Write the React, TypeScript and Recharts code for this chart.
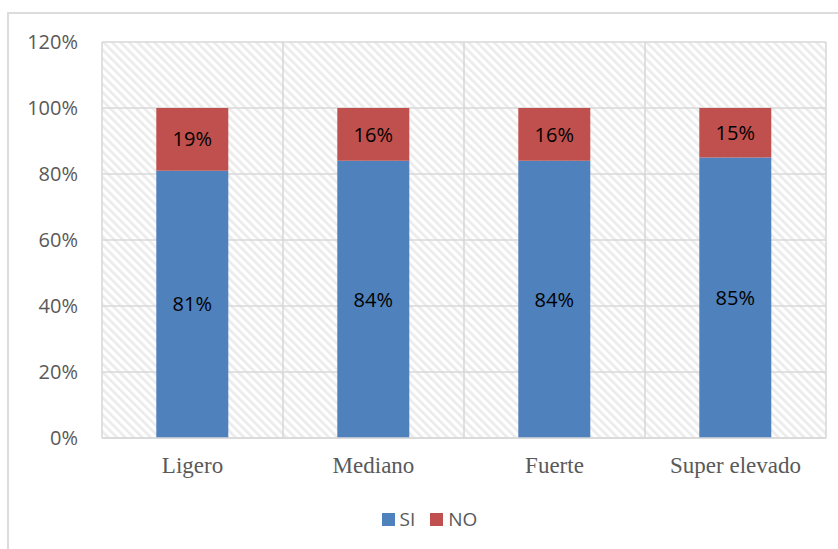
import React from "react";
import {
  BarChart,
  Bar,
  XAxis,
  YAxis,
  CartesianGrid,
  LabelList,
} from "recharts";

// Categories and stacked shares (percent)
const categories = ["Ligero", "Mediano", "Fuerte", "Super elevado"];
const siValues = [81, 84, 84, 85];
const noValues = [19, 16, 16, 15];
const yTicks = [0, 20, 40, 60, 80, 100, 120];

const SI_COLOR = "#4F81BD";
const NO_COLOR = "#C0504D";
const GRID = "#d9d9d9";

const data = categories.map((name, i) => ({
  name,
  SI: siValues[i],
  NO: noValues[i],
}));

const series = [
  { key: "SI", color: SI_COLOR },
  { key: "NO", color: NO_COLOR },
];

const sans = "'Open Sans', 'Liberation Sans', sans-serif";
const serif = "'Liberation Serif', 'Times New Roman', serif";

export default function App() {
  return (
    <div
      style={{
        position: "absolute",
        left: 0,
        top: 0,
        width: 838,
        height: 549,
        overflow: "hidden",
        background: "#fff",
      }}
    >
      <svg width={0} height={0} style={{ position: "absolute" }}>
        <defs>
          <pattern
            id="hatch"
            width={6}
            height={6}
            patternUnits="userSpaceOnUse"
            patternTransform="rotate(-45)"
          >
            <rect x={0} y={0} width={6} height={6} fill="#ffffff" />
            <rect x={0} y={0} width={2.6} height={6} fill="#ebebeb" />
          </pattern>
        </defs>
      </svg>
      {/* chart frame */}
      <div
        style={{
          position: "absolute",
          left: 7,
          top: 12,
          width: 860,
          height: 560,
          border: "2px solid #dcdcdc",
          boxSizing: "border-box",
        }}
      />
      <div style={{ position: "absolute", left: 0, top: 0 }}>
        <BarChart
          width={838}
          height={549}
          data={data}
          margin={{ top: 42, right: 12, bottom: 71, left: 0 }}
          barCategoryGap="30%"
        >
          <CartesianGrid
            stroke={GRID}
            strokeWidth={1.6}
            fill="url(#hatch)"
            fillOpacity={1}
            verticalCoordinatesGenerator={({ offset }: any) =>
              [0, 1, 2, 3, 4].map((i) => offset.left + (i * offset.width) / 4)
            }
          />
          <XAxis
            dataKey="name"
            height={40}
            axisLine={{ stroke: GRID, strokeWidth: 1.6 }}
            tickLine={false}
            tickSize={0}
            tickMargin={19}
            tick={{ fill: "#595959", fontSize: 23, fontFamily: serif }}
          />
          <YAxis
            width={102}
            domain={[0, 120]}
            ticks={yTicks}
            interval={0}
            axisLine={false}
            tickLine={false}
            tickSize={0}
            tickMargin={24}
            tickFormatter={(v: number) => `${v}%`}
            tick={{ fill: "#595959", fontSize: 20, fontFamily: sans }}
          />
          {series.map((s) => (
            <Bar
              key={s.key}
              dataKey={s.key}
              stackId="a"
              fill={s.color}
              isAnimationActive={false}
            >
              <LabelList
                dataKey={s.key}
                position="center"
                formatter={(v: number) => `${v}%`}
                fill="#000"
                fontSize={20}
                fontFamily={sans}
              />
            </Bar>
          ))}
        </BarChart>
      </div>
      {/* legend */}
      <div
        style={{
          position: "absolute",
          left: 0,
          top: 506,
          width: 838,
          display: "flex",
          justifyContent: "center",
          fontFamily: sans,
          fontSize: 19,
          color: "#595959",
          paddingLeft: 36,
          boxSizing: "border-box",
        }}
      >
        {series.map((s) => (
          <div
            key={s.key}
            style={{ display: "flex", alignItems: "center", marginRight: 15 }}
          >
            <span
              style={{
                width: 13,
                height: 13,
                background: s.color,
                display: "inline-block",
                marginRight: 5,
              }}
            />
            <span>{s.key}</span>
          </div>
        ))}
      </div>
    </div>
  );
}
